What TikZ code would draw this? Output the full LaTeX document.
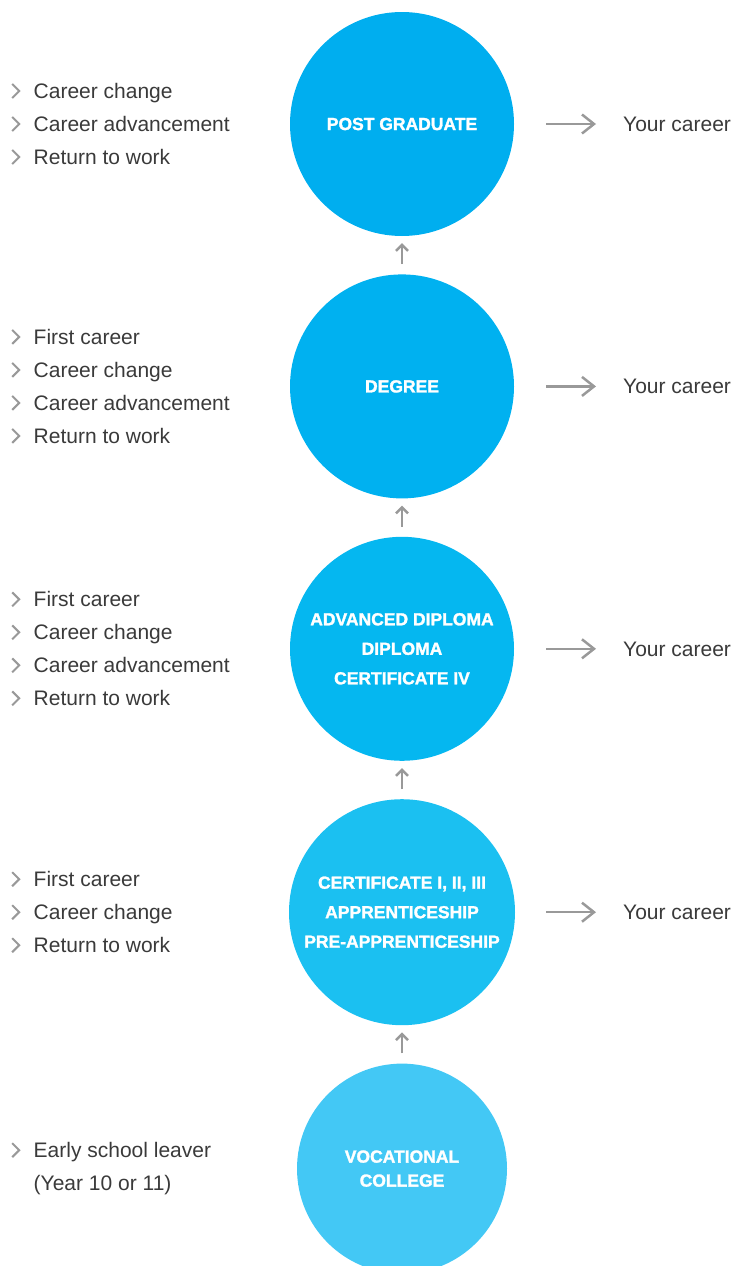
\documentclass[tikz,border=0pt]{standalone}
\usepackage{fontspec}
\setmainfont{Liberation Sans}
\newfontfamily\heavyfont{Liberation Sans}[BoldFeatures={FakeBold=1.6}]
\usepackage{tikz}
\usetikzlibrary{arrows.meta, positioning}
\usepackage{xcolor}

\definecolor{pgblue}{HTML}{00AEEF}
\definecolor{degblue}{HTML}{00B1F0}
\definecolor{advblue}{HTML}{05B7F0}
\definecolor{certblue}{HTML}{1BC0F1}
\definecolor{vocblue}{HTML}{43C8F5}
\definecolor{txtgray}{HTML}{3A3A3A}
\definecolor{arrgray}{HTML}{999999}

\newcommand{\chev}{\tikz[baseline=0pt]\draw[arrgray, line width=2pt] (0pt,0.5pt) -- (7pt,7.5pt) -- (0pt,14.5pt);\hspace{13.5pt}}

\begin{document}
\begin{tikzpicture}[
x=1pt, y=-1pt,
node distance=38pt,
level/.style={circle, fill=#1,
minimum size=224pt, inner sep=0pt,
text=white, align=center,
font=\heavyfont\bfseries\fontsize{17.5}{29.5}\selectfont},
list/.style={anchor=west, align=left, inner sep=0pt,
text=txtgray, font=\fontsize{21}{33}\selectfont},
yc/.style={anchor=west, inner sep=0pt, text depth=0pt,
text=txtgray, font=\fontsize{21}{33}\selectfont},
arrow/.style={-{Straight Barb[length=12pt, width=19pt]}, line width=2.5pt, arrgray},
uparrow/.style={-{Straight Barb[length=6pt, width=12pt]}, line width=2.5pt, arrgray}
]

\useasboundingbox (0,0) rectangle (737,1266);
\coordinate (lft) at (11,0);
\coordinate (rgt) at (623,0);

\node[level=pgblue] (pg) at (402,124) {POST GRADUATE};
\node[level=degblue, below=of pg] (deg) {DEGREE};
\node[level=advblue, below=of deg] (adv) {ADVANCED DIPLOMA\\DIPLOMA\\CERTIFICATE IV};
\node[level=certblue, minimum size=226pt, below=of adv] (cert) {CERTIFICATE I, II, III\\APPRENTICESHIP\\PRE-APPRENTICESHIP};
\node[level=vocblue, minimum size=210pt, below=of cert,
font=\heavyfont\bfseries\fontsize{17.5}{24}\selectfont] (voc) {VOCATIONAL\\COLLEGE};

\node[list] (pglist) at (pg -| lft) {\chev Career change\\ \chev Career advancement\\ \chev Return to work};
\node[list] (deglist) at (deg -| lft) {\chev First career\\ \chev Career change\\ \chev Career advancement\\ \chev Return to work};
\node[list] (advlist) at (adv -| lft) {\chev First career\\ \chev Career change\\ \chev Career advancement\\ \chev Return to work};
\node[list] (certlist) at (cert -| lft) {\chev First career\\ \chev Career change\\ \chev Return to work};
\node[list] (voclist) at (voc -| lft) {\chev Early school leaver\\ \phantom{\chev}(Year 10 or 11)};

\node[yc] (pgyc) at (pg -| rgt) {Your career};
\node[yc] (degyc) at (deg -| rgt) {Your career};
\node[yc] (advyc) at (adv -| rgt) {Your career};
\node[yc] (certyc) at (cert -| rgt) {Your career};

\draw[arrow] ([xshift=32pt]pg.east) -- ([xshift=-27pt]pgyc.west);
\draw[arrow] ([xshift=32pt]deg.east) -- ([xshift=-27pt]degyc.west);
\draw[arrow] ([xshift=32pt]adv.east) -- ([xshift=-27pt]advyc.west);
\draw[arrow] ([xshift=31pt]cert.east) -- ([xshift=-27pt]certyc.west);

\draw[uparrow] ([yshift=10pt]deg.north) -- ([yshift=-7pt]pg.south);
\draw[uparrow] ([yshift=10pt]adv.north) -- ([yshift=-7pt]deg.south);
\draw[uparrow] ([yshift=10pt]cert.north) -- ([yshift=-7pt]adv.south);
\draw[uparrow] ([yshift=10pt]voc.north) -- ([yshift=-7pt]cert.south);

\end{tikzpicture}
\end{document}
